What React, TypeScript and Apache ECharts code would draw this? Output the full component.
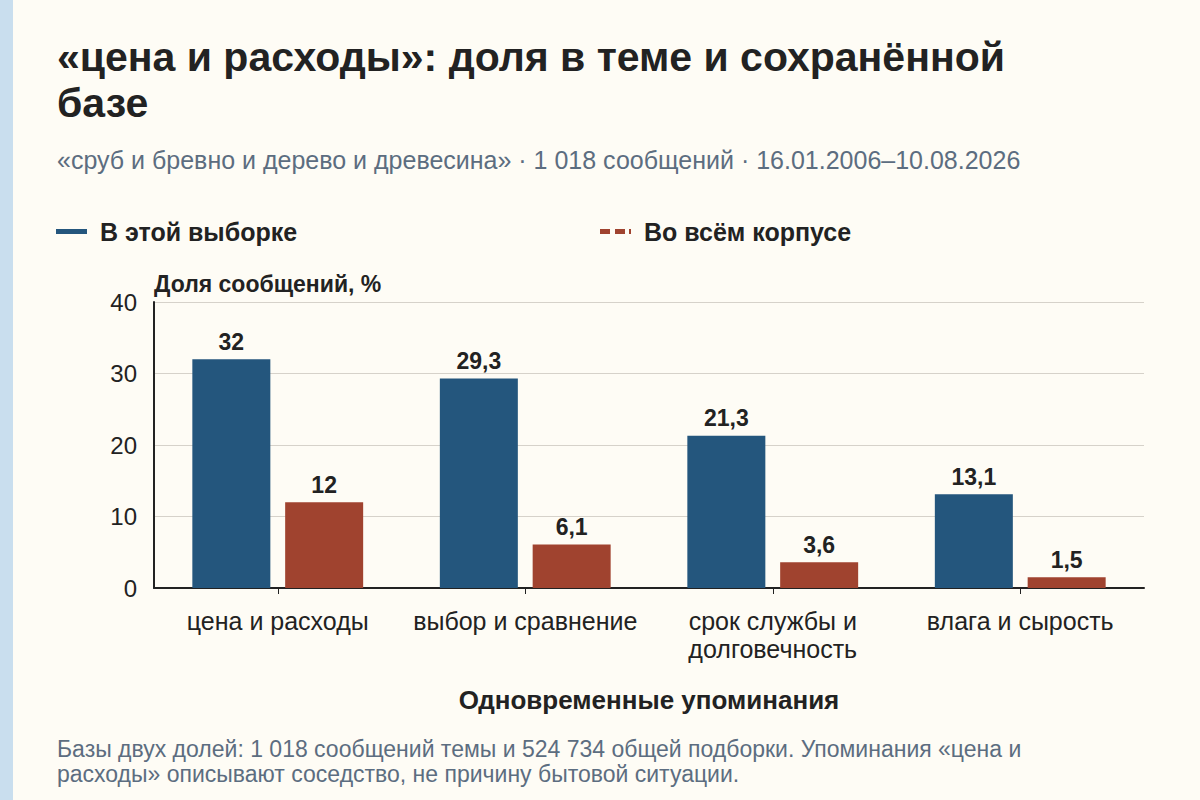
import { useEffect, useRef } from 'react';
import * as echarts from 'echarts';

const categories = ['цена и расходы', 'выбор и сравнение', 'срок службы и\nдолговечность', 'влага и сырость'];
const sampleShare = [32, 29.3, 21.3, 13.1];
const corpusShare = [12, 6.1, 3.6, 1.5];
const yTicks = { min: 0, max: 40, interval: 10 };

const seriesNames = ['В этой выборке', 'Во всём корпусе'];
const title = '«цена и расходы»: доля в теме и сохранённой\nбазе';
const subtitle = '«сруб и бревно и дерево и древесина» · 1 018 сообщений · 16.01.2006–10.08.2026';
const note = 'Базы двух долей: 1 018 сообщений темы и 524 734 общей подборки. Упоминания «цена и\nрасходы» описывают соседство, не причину бытовой ситуации.';

const FONT = '"Liberation Sans", Arial, Helvetica, sans-serif';
const BLUE = '#24567d';
const RED = '#a0432f';
const INK = '#222222';
const MUTED = '#5c6d80';

const fmt = (v: number) => String(v).replace('.', ',');

export default function App() {
  const ref = useRef<HTMLDivElement | null>(null);

  useEffect(() => {
    if (!ref.current) return;
    const chart = echarts.init(ref.current, undefined, { renderer: 'svg' });
    const barLabel = {
      show: true,
      position: 'top',
      distance: 6,
      formatter: (p: { value: number }) => fmt(p.value),
      fontFamily: FONT,
      fontSize: 23,
      fontWeight: 'bold',
      color: INK,
    };
    const legendText = { fontFamily: FONT, fontSize: 25, fontWeight: 'bold', color: INK, padding: [0, 0, 0, 8] };
    chart.setOption({
      animation: false,
      backgroundColor: '#fefcf5',
      textStyle: { fontFamily: FONT },
      title: [
        {
          text: title,
          left: 52,
          top: 29,
          textStyle: { fontFamily: FONT, fontSize: 41, fontWeight: 'bold', color: INK, lineHeight: 46 },
        },
        {
          text: subtitle,
          left: 52,
          top: 142,
          textStyle: { fontFamily: FONT, fontSize: 25, fontWeight: 'normal', color: MUTED },
        },
        {
          text: note,
          left: 52,
          top: 731,
          textStyle: { fontFamily: FONT, fontSize: 23, fontWeight: 'normal', color: MUTED, lineHeight: 25 },
        },
      ],
      legend: [
        {
          left: 51,
          top: 214,
          data: [{ name: seriesNames[0], icon: 'rect' }],
          itemWidth: 31,
          itemHeight: 5,
          textStyle: legendText,
        },
        {
          left: 595,
          top: 214,
          data: [{ name: seriesNames[1], icon: 'path://M0,0h10v5h-10z M15,0h10v5h-10z M29,0h2v5h-2z' }],
          itemWidth: 31,
          itemHeight: 5,
          textStyle: legendText,
        },
      ],
      graphic: [
        { type: 'rect', left: 0, top: 0, shape: { width: 13, height: 800 }, style: { fill: '#c9deee' }, silent: true },
      ],
      grid: { left: 154, right: 56, top: 302, bottom: 212 },
      xAxis: {
        type: 'category',
        data: categories,
        name: 'Одновременные упоминания',
        nameLocation: 'middle',
        nameGap: 99,
        nameTextStyle: { fontFamily: FONT, fontSize: 26, fontWeight: 'bold', color: INK },
        axisLine: { lineStyle: { color: '#222', width: 2 } },
        axisTick: { show: true, alignWithLabel: true, length: 6, lineStyle: { color: '#222', width: 1 } },
        axisLabel: { interval: 0, fontFamily: FONT, fontSize: 25, color: INK, lineHeight: 28, margin: 19 },
      },
      yAxis: {
        type: 'value',
        ...yTicks,
        name: 'Доля сообщений, %',
        nameLocation: 'end',
        nameGap: 7,
        nameTextStyle: { fontFamily: FONT, fontSize: 23, fontWeight: 'bold', color: INK, align: 'left' },
        axisLine: { show: true, lineStyle: { color: '#222', width: 2 } },
        axisTick: { show: false },
        axisLabel: { fontFamily: FONT, fontSize: 24, color: INK, margin: 17 },
        splitLine: { lineStyle: { color: '#d6d2ca', width: 1 } },
      },
      series: [
        {
          name: seriesNames[0],
          type: 'bar',
          data: sampleShare,
          barWidth: 78,
          barGap: '19%',
          itemStyle: { color: BLUE },
          label: barLabel,
        },
        {
          name: seriesNames[1],
          type: 'bar',
          data: corpusShare,
          barWidth: 78,
          itemStyle: { color: RED },
          label: barLabel,
        },
      ],
    });
    return () => chart.dispose();
  }, []);

  return <div ref={ref} style={{ position: 'absolute', left: 0, top: 0, width: 1200, height: 800 }} />;
}
